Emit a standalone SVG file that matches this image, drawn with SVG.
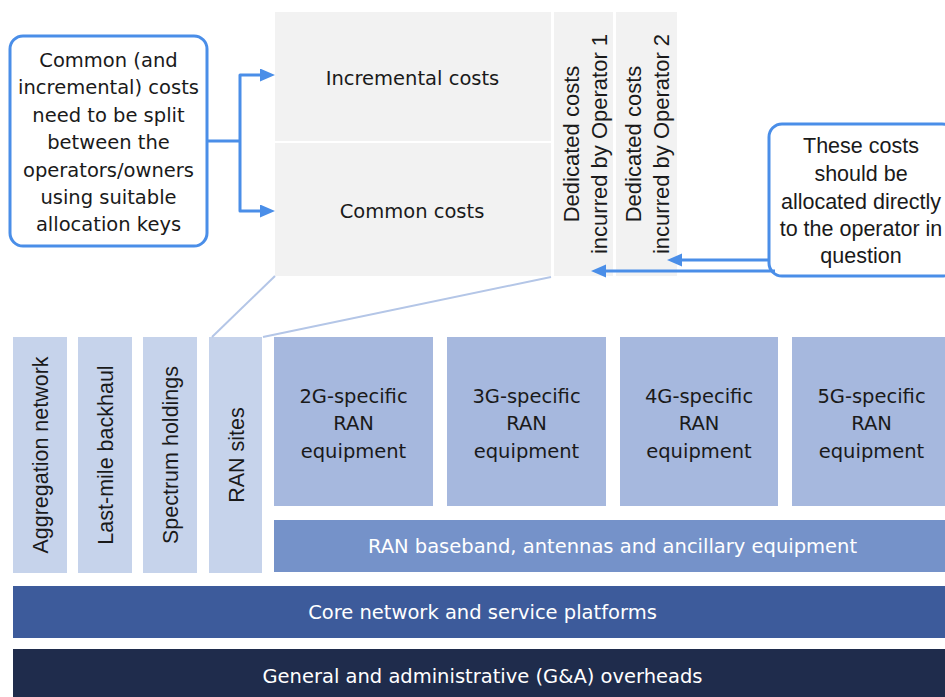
<svg xmlns="http://www.w3.org/2000/svg" width="945" height="697" viewBox="0 0 945 697">
<style>
.frank{font-family:"DejaVu Sans","Liberation Sans",sans-serif;font-size:19.5px;text-anchor:middle;fill:#1a1a1a}
.ar{font-family:"Liberation Sans",Arial,sans-serif;font-size:21.5px;text-anchor:middle;fill:#1a1a1a}
.ded{font-family:"Liberation Sans",Arial,sans-serif;font-size:22px;text-anchor:middle;fill:#1a1a1a}
.w{fill:#ffffff}
.grey{fill:#f2f2f2}
.light{fill:#c6d3eb}
.mid{fill:#a6b8de}
.base{fill:#7592c9}
.core{fill:#3d5b9b}
.ga{fill:#1f2c4c}
.callout{fill:#ffffff;stroke:#4a8ee8;stroke-width:3}
.conn{fill:none;stroke:#4a8ee8;stroke-width:3;stroke-linejoin:round}
.funnel{fill:none;stroke:#b4c6e7;stroke-width:2}
</style>
<defs>
<marker id="ah" markerUnits="userSpaceOnUse" markerWidth="16" markerHeight="14" refX="2" refY="6.5" orient="auto">
<path d="M0,0 L15,6.5 L0,13 z" fill="#4a8ee8"/>
</marker>
</defs>
<rect width="945" height="697" fill="#ffffff"/>

<g id="callout-left">
<rect class="callout" x="10" y="36" width="197" height="210" rx="13"/>
<text class="frank" x="108.5" y="67">Common (and</text>
<text class="frank" x="108.5" y="94.4">incremental) costs</text>
<text class="frank" x="108.5" y="121.8">need to be split</text>
<text class="frank" x="108.5" y="149.2">between the</text>
<text class="frank" x="108.5" y="176.6">operators/owners</text>
<text class="frank" x="108.5" y="204">using suitable</text>
<text class="frank" x="108.5" y="231.4">allocation keys</text>
</g>

<g id="incremental-costs">
<rect class="grey" x="275" y="12" width="276" height="129"/>
<text class="frank" x="412.5" y="85">Incremental costs</text>
</g>
<g id="common-costs">
<rect class="grey" x="275" y="143" width="276" height="133"/>
<text class="frank" x="412" y="218">Common costs</text>
</g>
<g id="dedicated-op1">
<rect class="grey" x="554" y="12" width="59" height="264"/>
<text class="ded" transform="translate(578.5,144) rotate(-90)">Dedicated costs</text>
<text class="ded" transform="translate(606.5,144) rotate(-90)">incurred by Operator 1</text>
</g>
<g id="dedicated-op2">
<rect class="grey" x="616" y="12" width="61" height="264"/>
<text class="ded" transform="translate(641,144) rotate(-90)">Dedicated costs</text>
<text class="ded" transform="translate(669,144) rotate(-90)">incurred by Operator 2</text>
</g>

<g id="callout-right">
<rect class="callout" x="769" y="124" width="186" height="152" rx="13"/>
<text class="ar" x="861" y="153">These costs</text>
<text class="ar" x="861" y="181">should be</text>
<text class="ar" x="861" y="208.5">allocated directly</text>
<text class="ar" x="861" y="236">to the operator in</text>
<text class="ar" x="861" y="263">question</text>
</g>

<g id="aggregation-network">
<rect class="light" x="13" y="337" width="54" height="236"/>
<text class="ar" transform="translate(48,455) rotate(-90)">Aggregation network</text>
</g>
<g id="last-mile-backhaul">
<rect class="light" x="78" y="337" width="54" height="236"/>
<text class="ar" transform="translate(113,455) rotate(-90)">Last-mile backhaul</text>
</g>
<g id="spectrum-holdings">
<rect class="light" x="143" y="337" width="54" height="236"/>
<text class="ar" transform="translate(178,455) rotate(-90)">Spectrum holdings</text>
</g>
<g id="ran-sites">
<rect class="light" x="209" y="337" width="53" height="236"/>
<text class="ar" transform="translate(244,455) rotate(-90)">RAN sites</text>
</g>

<g id="ran-2g">
<rect class="mid" x="274" y="337" width="159" height="169"/>
<text class="frank" x="353.5" y="402.7">2G-specific</text>
<text class="frank" x="353.5" y="430">RAN</text>
<text class="frank" x="353.5" y="458">equipment</text>
</g>
<g id="ran-3g">
<rect class="mid" x="447" y="337" width="159" height="169"/>
<text class="frank" x="526.5" y="402.7">3G-specific</text>
<text class="frank" x="526.5" y="430">RAN</text>
<text class="frank" x="526.5" y="458">equipment</text>
</g>
<g id="ran-4g">
<rect class="mid" x="620" y="337" width="158" height="169"/>
<text class="frank" x="699" y="402.7">4G-specific</text>
<text class="frank" x="699" y="430">RAN</text>
<text class="frank" x="699" y="458">equipment</text>
</g>
<g id="ran-5g">
<rect class="mid" x="792" y="337" width="159" height="169"/>
<text class="frank" x="871.5" y="402.7">5G-specific</text>
<text class="frank" x="871.5" y="430">RAN</text>
<text class="frank" x="871.5" y="458">equipment</text>
</g>

<g id="ran-baseband">
<rect class="base" x="274" y="520" width="677" height="52"/>
<text class="frank w" x="612.5" y="552.5">RAN baseband, antennas and ancillary equipment</text>
</g>
<g id="core-network">
<rect class="core" x="13" y="586" width="939" height="52"/>
<text class="frank w" x="482.5" y="619">Core network and service platforms</text>
</g>
<g id="ga-overheads">
<rect class="ga" x="13" y="649" width="939" height="52"/>
<text class="frank w" x="482.5" y="683">General and administrative (G&amp;A) overheads</text>
</g>

<g id="connectors">
<path class="funnel" d="M275,276 L212,337"/>
<path class="funnel" d="M551,277 L263,337"/>
<path class="conn" d="M207,141 H240"/>
<path class="conn" d="M240,141 V75 H262" marker-end="url(#ah)"/>
<path class="conn" d="M240,141 V211 H262" marker-end="url(#ah)"/>
<path class="conn" d="M769,260 H680" marker-end="url(#ah)"/>
<path class="conn" d="M775,271 H604" marker-end="url(#ah)"/>
</g>
</svg>
